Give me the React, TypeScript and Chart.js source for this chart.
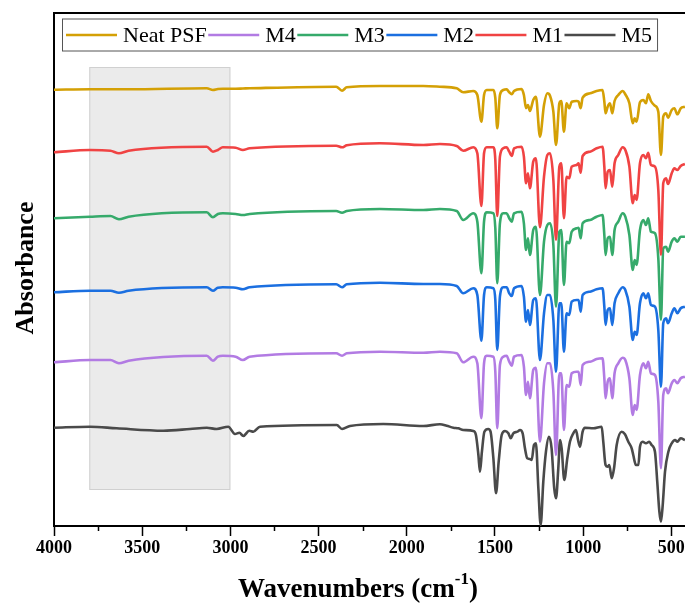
import React, { useEffect, useRef } from "react";
import { Chart, registerables } from "chart.js";

Chart.register(...registerables);

// ---------- data ----------
const SERIES_NAMES = ["Neat PSF", "M4", "M3", "M2", "M1", "M5"];
const SERIES_COLORS = ["#D4A005", "#B27BE3", "#36AA6B", "#1B6FE0", "#F04343", "#4A4A4A"];

// wavenumbers (cm-1) shared by Neat PSF, M1–M4
const WAVENUMBERS = [
  4000, 3796, 3680, 3632, 3577, 3134, 3099, 3071, 3043, 2970, 2929, 2891, 2400, 2367, 2340, 2152, 1906,
  1812, 1717, 1680, 1623, 1600, 1577, 1562, 1547, 1509, 1498, 1487, 1472, 1453, 1434, 1419, 1405, 1392,
  1349, 1336, 1324, 1313, 1302, 1283, 1268, 1245, 1222, 1203, 1188, 1169, 1154, 1135, 1124, 1109, 1094,
  1079, 1065, 1037, 1026, 1014, 1003, 961, 924, 890, 880, 873, 861, 848, 835, 822, 801, 776, 761, 738,
  719, 708, 697, 678, 659, 644, 631, 616, 593, 574, 559, 546, 530, 519, 498, 483, 466, 447, 423,
];

const NEAT_PSF = [
  436.3, 436.7, 436.7, 436.7, 436.7, 437.7, 436, 437, 437.3, 437.3, 437.5, 437.7, 439.3, 435.3, 438.7, 440, 440,
  439.3, 437.7, 433.7, 435, 431, 404.3, 431, 436, 436, 428, 397.7, 431, 436, 436.7, 433.7, 431.7, 435,
  437, 431, 417.7, 421, 415, 426, 429.3, 389.3, 421, 432.7, 430.3, 414.3, 381, 422.7, 425, 394.3, 422.7,
  417.7, 424.3, 425, 424.3, 417.7, 428.3, 432.7, 435, 436, 424.3, 412.7, 419.3, 422.7, 412.7, 425, 431, 435, 431.7, 422.7,
  402.7, 407.7, 404.3, 423.7, 426, 422.7, 431.7, 425, 420.3, 414.3, 371, 409.3, 412.7, 408.3, 416, 417.7, 411.7, 417.7, 419.3,
];

const M1 = [
  373.7, 376, 375.3, 372.7, 375.3, 379.3, 374.3, 376, 378.7, 378.3, 376, 377.7, 380.3, 378.7, 380.7, 382.7, 381,
  382, 380, 375.3, 378.7, 372.7, 320, 372.7, 378.7, 378.7, 366, 310, 369.3, 377.7, 378.7, 374.3, 370, 377.7,
  379.3, 369.3, 342.7, 352.7, 337.7, 364.3, 367.7, 298.7, 349.3, 371, 372.7, 346, 286, 359.3, 362.7, 307.7, 349.3,
  347.7, 359.3, 361, 362.7, 353.3, 370, 374.3, 377.7, 379.3, 359.3, 337.7, 354.3, 356, 339.3, 362.7, 371, 378.7, 376, 359.3,
  322.7, 331, 326, 362.7, 371, 367.7, 373.3, 361, 359.3, 336, 271, 342.7, 347.7, 342, 352.7, 357.7, 356, 360, 362,
];

const M3 = [
  307.7, 309.3, 310, 306.7, 309.3, 313.7, 308.7, 312, 312.7, 312, 311, 312, 315, 313.3, 315, 317, 316,
  317, 315, 306, 312.7, 304.3, 252.7, 304.3, 313.7, 312.7, 297.7, 242.7, 302.7, 312.7, 312.7, 307.7, 304.3, 312.7,
  314.3, 302.7, 276, 287.7, 271, 296, 299.3, 231, 284.3, 301, 302.7, 281, 219.3, 294.3, 296, 241, 284.3,
  282.7, 294.3, 297.7, 298.3, 287.7, 302.7, 306, 309.3, 311, 291, 271, 287.7, 289.3, 271, 296, 304.3, 312.7, 309.3, 291,
  256, 266, 261, 296, 306, 301, 307.7, 294.3, 292.7, 267.7, 206, 277.7, 279.3, 274.3, 284.3, 287.7, 284.3, 289.3, 289.3,
];

const M2 = [
  233.7, 235.3, 235.3, 233.3, 235.3, 238.7, 235.3, 238.3, 238.7, 238.3, 236.7, 238.7, 241.7, 238.7, 241.7, 243.3, 242,
  242, 240, 232.7, 237.7, 231, 185.3, 231, 238.7, 237.7, 226, 176, 229.3, 238.7, 238.7, 232.7, 230, 237.7,
  240, 229.3, 204.3, 216, 201, 226, 227.7, 166, 212.7, 231, 231, 206, 154.3, 222.7, 222.7, 174.3, 212.7,
  211, 224.3, 226, 226, 214.3, 231, 234.3, 236.7, 237.7, 219.3, 201, 216, 217.7, 201, 222.7, 232.7, 238.7, 236, 219.3,
  186, 194.3, 191, 222.7, 232.7, 227.7, 232.7, 221, 219.3, 196, 139.3, 202.7, 207.7, 202.7, 212.7, 217.7, 212.7, 217.7, 219.3,
];

const M4 = [
  163.7, 166, 166, 162.7, 165.3, 170.3, 165.3, 169.3, 170.3, 169.3, 166, 169.3, 172.7, 170.3, 172.7, 174.3, 173.3,
  174.3, 172.7, 163.7, 169.3, 162.7, 107.7, 162.7, 170.3, 169.3, 154.3, 97.7, 161, 169.3, 170.3, 164.3, 160.3, 169.3,
  171, 159.3, 131, 144.3, 127.7, 156, 158.3, 84.3, 142.7, 162.7, 162.7, 134.3, 71, 152.7, 152.7, 96, 141,
  139.3, 152.7, 154.3, 154.3, 141, 161, 164.3, 167, 167.7, 147.7, 127.7, 144.3, 147.7, 127.7, 152.7, 162.7, 168.3, 166, 147.7,
  111, 121, 116, 151, 162.7, 157.7, 164.3, 152.7, 151, 124.3, 57.7, 131, 137.7, 132.7, 142.7, 146, 142.7, 147.7, 149.3,
];

// M5 has its own sampling
const M5_WAVENUMBERS = [
  4000, 3796, 3645, 3380, 3229, 3134, 3078, 3012, 2974, 2949, 2927, 2893, 2870, 2832, 2397, 2367, 2322, 2133, 1906,
  1812, 1774, 1736, 1708, 1680, 1623, 1608, 1594, 1585, 1574, 1560, 1538, 1525, 1509, 1494, 1479, 1462, 1443,
  1424, 1411, 1396, 1373, 1358, 1343, 1330, 1317, 1302, 1292, 1279, 1268, 1254, 1241, 1226, 1211, 1194, 1179,
  1164, 1154, 1141, 1131, 1122, 1107, 1090, 1075, 1056, 1041, 1029, 1018, 1003, 990, 942, 895, 886, 873, 861,
  852, 838, 825, 810, 782, 763, 744, 725, 716, 701, 687, 678, 663, 644, 625, 612, 593, 580, 568, 559, 549, 536,
  517, 498, 479, 466, 447, 423,
];
const M5 = [
  98.3, 99.3, 97.7, 95.3, 97, 98.3, 97, 99.3, 92, 93.3, 90, 95.3, 94.3, 99.3, 101, 97, 100, 102, 100,
  101.7, 100.3, 98.3, 97.7, 96, 95, 91, 71, 54.3, 74.3, 94.3, 97, 94.3, 67.7, 32.7, 64.3, 91, 95,
  92.7, 87.7, 92.7, 94.3, 96, 92.7, 77.7, 67.7, 67, 66, 81, 82.7, 37.7, 1, 44.3, 74.3, 89.3, 77.7,
  37.7, 27.7, 57.7, 86, 77.7, 46, 67.7, 84.3, 92.7, 96, 86, 79.3, 94.3, 98.3, 97.7, 99.3, 84.3, 61, 59.3,
  61, 47.7, 57.7, 81, 94.3, 91.7, 84.3, 77.7, 71, 61, 61, 79.3, 84.3, 82.7, 84.3, 81, 74.3, 44.3, 14.3, 4.3, 21, 54.3,
  74.3, 82.7, 86, 84.3, 87.7, 86,
];

const X_TICKS = [500, 1000, 1500, 2000, 2500, 3000, 3500, 4000];
const X_MINOR_TICKS = [750, 1250, 1750, 2250, 2750, 3250, 3750];
const SHADED_RANGE = [3800, 3000];
const SHADED_LEVELS = [36, 459];

const FONT = "'Liberation Serif', 'Times New Roman', Times, serif";

const decorPlugin = {
  id: "decor",
  beforeDatasetsDraw(chart: any) {
    const { ctx, scales } = chart;
    const x = scales.x, y = scales.y;
    const x1 = x.getPixelForValue(SHADED_RANGE[0]);
    const x2 = x.getPixelForValue(SHADED_RANGE[1]);
    const y1 = y.getPixelForValue(SHADED_LEVELS[1]);
    const y2 = y.getPixelForValue(SHADED_LEVELS[0]);
    ctx.save();
    ctx.fillStyle = "#ebebeb";
    ctx.fillRect(x1, y1, x2 - x1, y2 - y1);
    ctx.strokeStyle = "#d0d0d0";
    ctx.lineWidth = 1;
    ctx.strokeRect(x1 + 0.5, y1 + 0.5, x2 - x1 - 1, y2 - y1 - 1);
    ctx.restore();
  },
  afterDraw(chart: any) {
    const { ctx, chartArea, scales } = chart;
    const x = scales.x;
    ctx.save();
    // frame top & right
    ctx.strokeStyle = "#000";
    ctx.lineWidth = 2;
    ctx.beginPath();
    ctx.moveTo(chartArea.left, chartArea.top);
    ctx.lineTo(chartArea.right, chartArea.top);
    ctx.lineTo(chartArea.right, chartArea.bottom);
    ctx.stroke();
    // minor ticks
    ctx.lineWidth = 1.5;
    ctx.beginPath();
    for (const v of X_MINOR_TICKS) {
      const px = Math.round(x.getPixelForValue(v)) + 0.5;
      ctx.moveTo(px, chartArea.bottom);
      ctx.lineTo(px, chartArea.bottom + 5);
    }
    ctx.stroke();

    // axis titles
    ctx.fillStyle = "#000";
    ctx.textBaseline = "middle";
    const main = "Wavenumbers (cm";
    const sup = "-1";
    const close = ")";
    ctx.font = `bold 27px ${FONT}`;
    const wMain = ctx.measureText(main).width;
    const wClose = ctx.measureText(close).width;
    ctx.font = `bold 17px ${FONT}`;
    const wSup = ctx.measureText(sup).width;
    const total = wMain + wSup + wClose;
    let tx = 358 - total / 2;
    const ty = 590;
    ctx.textAlign = "left";
    ctx.font = `bold 27px ${FONT}`;
    ctx.fillText(main, tx, ty);
    tx += wMain;
    ctx.font = `bold 17px ${FONT}`;
    ctx.fillText(sup, tx, ty - 10);
    tx += wSup;
    ctx.font = `bold 27px ${FONT}`;
    ctx.fillText(close, tx, ty);

    ctx.save();
    ctx.translate(26, 268);
    ctx.rotate(-Math.PI / 2);
    ctx.textAlign = "center";
    ctx.font = `bold 26px ${FONT}`;
    ctx.fillText("Absorbance", 0, 0);
    ctx.restore();

    // legend
    const ds = chart.data.datasets;
    ctx.font = `22px ${FONT}`;
    const lineLen = 51;
    const gap = 6;
    const trail = 1.5;
    const ly = 35;
    let lx = 66;
    const items: any[] = [];
    for (const d of ds) {
      const w = ctx.measureText(d.label).width;
      items.push({ d, x: lx, w });
      lx += lineLen + gap + w + trail;
    }
    const boxL = 62.5, boxT = 19, boxR = lx + 4, boxB = 51;
    ctx.fillStyle = "#fff";
    ctx.fillRect(boxL, boxT, boxR - boxL, boxB - boxT);
    ctx.strokeStyle = "#555";
    ctx.lineWidth = 1;
    ctx.strokeRect(boxL, boxT, boxR - boxL, boxB - boxT);
    for (const it of items) {
      ctx.strokeStyle = it.d.borderColor;
      ctx.lineWidth = 2.5;
      ctx.beginPath();
      ctx.moveTo(it.x, ly);
      ctx.lineTo(it.x + lineLen, ly);
      ctx.stroke();
      ctx.fillStyle = "#000";
      ctx.textAlign = "left";
      ctx.textBaseline = "middle";
      ctx.fillText(it.d.label, it.x + lineLen + gap, ly + 1);
    }
    ctx.restore();
  },
};

export default function App() {
  const ref = useRef<HTMLCanvasElement>(null);

  useEffect(() => {
    document.body.style.margin = "0";
    const canvas = ref.current!;
    const waves = [WAVENUMBERS, WAVENUMBERS, WAVENUMBERS, WAVENUMBERS, WAVENUMBERS, M5_WAVENUMBERS];
    const values = [NEAT_PSF, M4, M3, M2, M1, M5];
    const drawOrder = [0, 4, 2, 3, 1, 5];
    const chart = new Chart(canvas, {
      type: "line",
      data: {
        datasets: SERIES_NAMES.map((name, i) => ({
          label: name,
          data: waves[i].map((w, k) => ({ x: w, y: values[i][k] })),
          borderColor: SERIES_COLORS[i],
          backgroundColor: SERIES_COLORS[i],
          borderWidth: 2.6,
          pointRadius: 0,
          cubicInterpolationMode: "monotone" as const,
          fill: false,
          order: drawOrder[i],
        })),
      },
      options: {
        responsive: false,
        animation: false,
        devicePixelRatio: 1,
        layout: { padding: { top: 13, right: 11, left: 0, bottom: 0 } },
        plugins: { legend: { display: false }, tooltip: { enabled: false } },
        scales: {
          x: {
            type: "linear",
            reverse: true,
            min: 400,
            max: 4000,
            afterBuildTicks: (s: any) => {
              s.ticks = X_TICKS.map((v) => ({ value: v }));
            },
            afterFit: (s: any) => {
              s.height = 79;
            },
            border: { display: true, color: "#000", width: 2 },
            grid: {
              display: true,
              drawOnChartArea: false,
              drawTicks: true,
              tickLength: 10,
              tickWidth: 1.5,
              tickColor: "#000",
            },
            ticks: {
              color: "#000",
              font: { family: FONT, size: 18, weight: "bold" },
              padding: 2,
              maxRotation: 0,
              autoSkip: false,
              callback: (v: any) => String(v),
            },
          },
          y: {
            min: 0,
            max: 513,
            afterFit: (s: any) => {
              s.width = 54;
            },
            border: { display: true, color: "#000", width: 2 },
            grid: { display: false },
            ticks: { display: false },
          },
        },
      } as any,
      plugins: [decorPlugin],
    });
    return () => chart.destroy();
  }, []);

  return (
    <div style={{ width: 685, height: 605, overflow: "hidden", background: "#fff" }}>
      <canvas ref={ref} width={700} height={605} style={{ display: "block", width: 700, height: 605 }} />
    </div>
  );
}
